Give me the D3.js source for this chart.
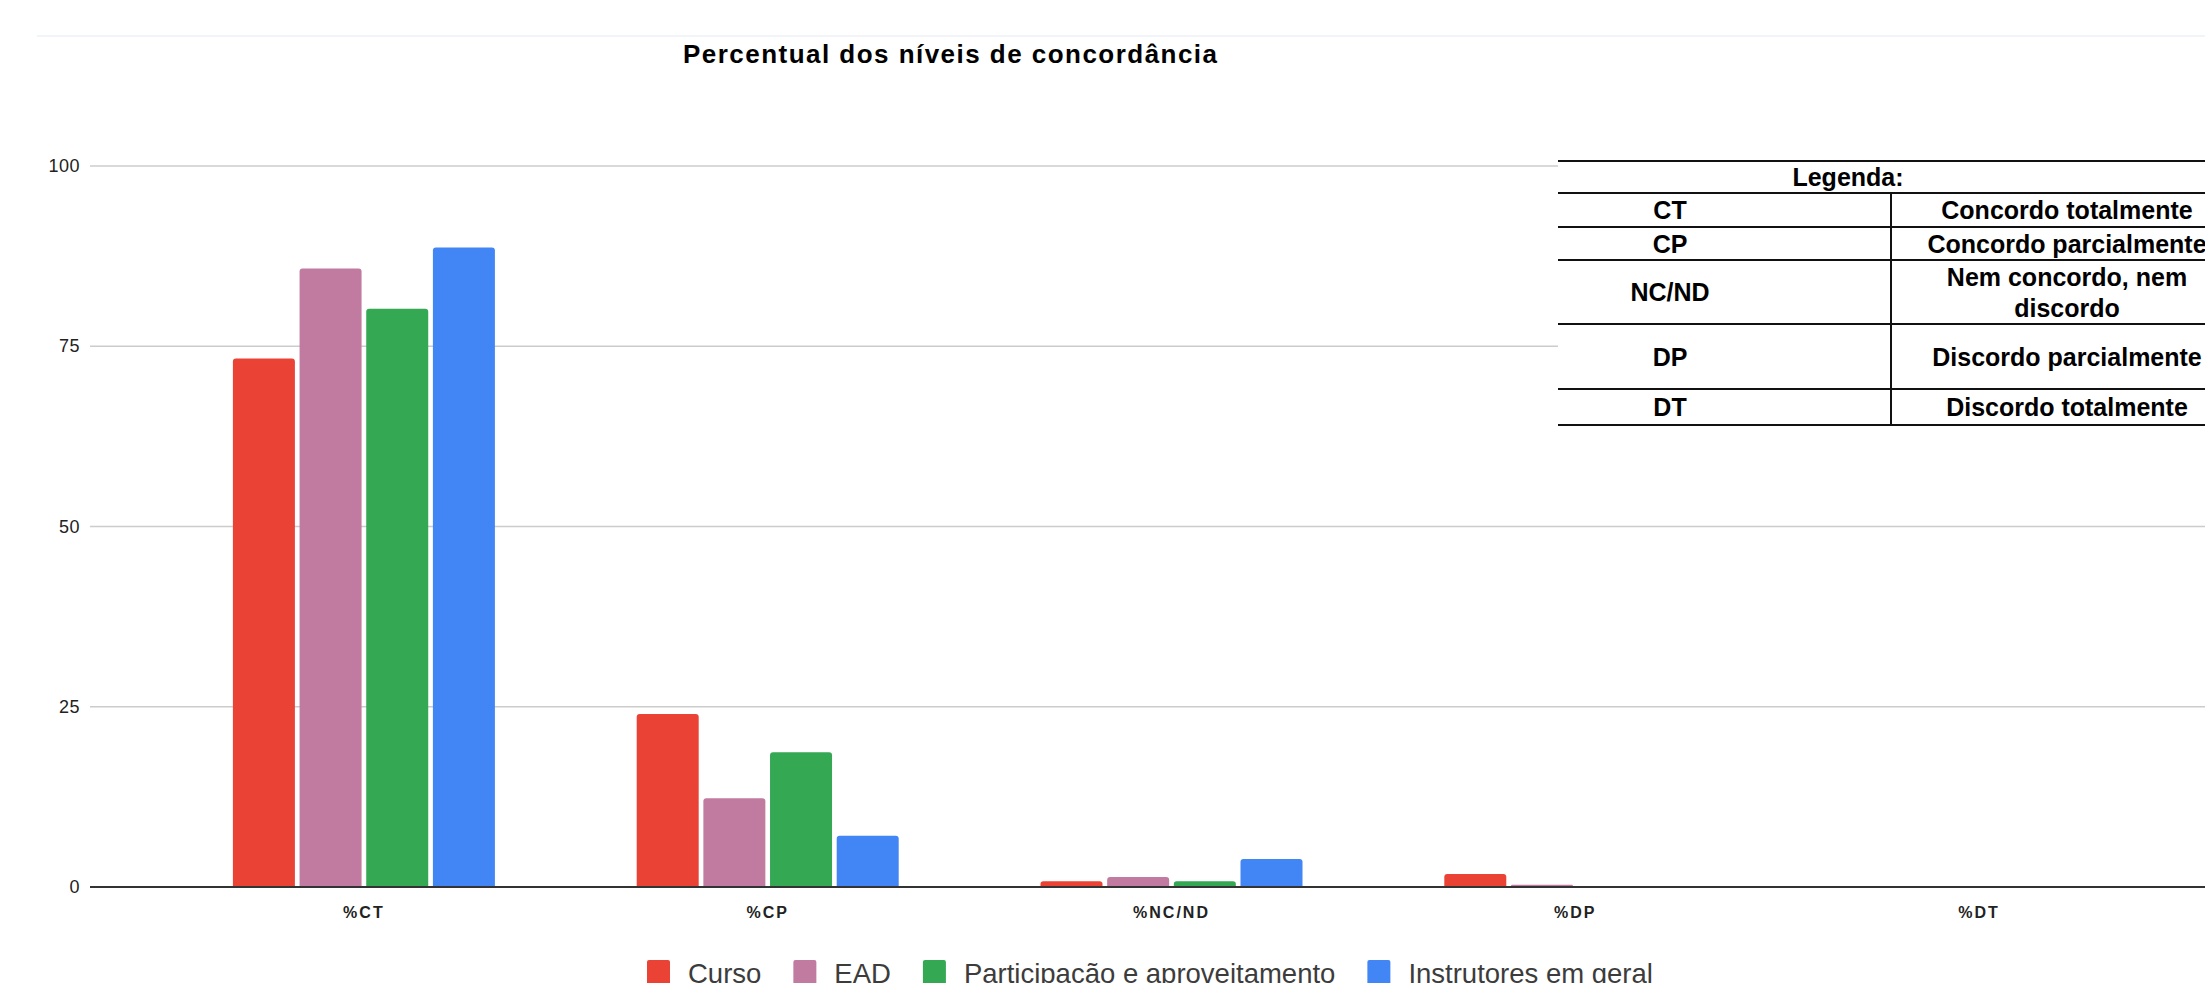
<!DOCTYPE html>
<html>
<head>
<meta charset="utf-8">
<script src="https://d3js.org/d3.v7.min.js"></script>
<style>
  body { margin: 0; background: #fff; }
  svg { display: block; }
</style>
</head>
<body>
<script>

var w = 2205, h = 983;

// data
var categories = ["%CT", "%CP", "%NC/ND", "%DP", "%DT"];
var seriesNames = ["Curso", "EAD", "Participação e aproveitamento", "Instrutores em geral"];
var colors = ["#EA4335", "#C27BA0", "#34A853", "#4285F4"];
var curso = [73.3, 24.0, 0.8, 1.8, 0];
var ead = [85.8, 12.3, 1.4, 0.3, 0];
var participacao = [80.2, 18.7, 0.8, 0, 0];
var instrutores = [88.7, 7.1, 3.9, 0, 0];
var yTicks = [0, 25, 50, 75, 100];

var legendRows = [
  ["CT", "Concordo totalmente"],
  ["CP", "Concordo parcialmente"],
  ["NC/ND", "Nem concordo, nem|discordo"],
  ["DP", "Discordo parcialmente"],
  ["DT", "Discordo totalmente"]
];

var allSeries = [curso, ead, participacao, instrutores];

var svg = d3.select("body").append("svg").attr("width", w).attr("height", h);

// faint top line
svg.append("line").attr("x1", 37).attr("x2", w).attr("y1", 36).attr("y2", 36)
  .attr("stroke", "#edf1f7").attr("stroke-width", 1.5);

// title
svg.append("text").text("Percentual dos níveis de concordância")
  .attr("x", 950).attr("y", 63)
  .attr("text-anchor", "middle")
  .attr("font-family", "Liberation Sans, Arial, sans-serif")
  .attr("font-weight", "bold").attr("font-size", "26px")
  .attr("textLength", 534).attr("lengthAdjust", "spacing")
  .attr("fill", "#000");

var y = d3.scaleLinear().domain([0, 100]).range([887, 166]);
var x0 = d3.scaleBand().domain(categories).range([162, 2181]);
var x1 = d3.scaleBand().domain(d3.range(seriesNames.length)).range([-131, 131]).paddingInner(0.07);

// gridlines
svg.append("g").selectAll("line").data(yTicks.filter(function(d){ return d > 0; }))
  .enter().append("line")
  .attr("x1", 90).attr("x2", w)
  .attr("y1", function(d){ return y(d); }).attr("y2", function(d){ return y(d); })
  .attr("stroke", "#cccccc").attr("stroke-width", 1.5);

// y labels
svg.append("g").selectAll("text").data(yTicks).enter().append("text")
  .text(function(d){ return d; })
  .attr("x", 80).attr("y", function(d){ return y(d) + 6; })
  .attr("text-anchor", "end")
  .attr("font-family", "Liberation Sans, Arial, sans-serif")
  .attr("font-size", "18px").attr("letter-spacing", "0.5px")
  .attr("fill", "#222");

// bars
var barData = [];
categories.forEach(function(c, ci){
  allSeries.forEach(function(s, si){
    barData.push({cat: c, s: si, v: s[ci]});
  });
});

function barPath(d){
  var x = x0(d.cat) + x0.bandwidth() / 2 + x1(d.s);
  var bw = x1.bandwidth();
  var top = y(d.v), base = y(0);
  var r = Math.min(3, (base - top) / 2);
  return "M" + x + "," + base +
    "V" + (top + r) +
    "Q" + x + "," + top + " " + (x + r) + "," + top +
    "H" + (x + bw - r) +
    "Q" + (x + bw) + "," + top + " " + (x + bw) + "," + (top + r) +
    "V" + base + "Z";
}

svg.append("g").selectAll("path").data(barData.filter(function(d){ return d.v > 0; }))
  .enter().append("path")
  .attr("d", barPath)
  .attr("fill", function(d){ return colors[d.s]; });

// baseline
svg.append("line").attr("x1", 90).attr("x2", w).attr("y1", y(0)).attr("y2", y(0))
  .attr("stroke", "#333").attr("stroke-width", 2);

// x labels
svg.append("g").selectAll("text").data(categories).enter().append("text")
  .text(function(d){ return d; })
  .attr("x", function(d){ return x0(d) + x0.bandwidth() / 2; })
  .attr("y", 918)
  .attr("text-anchor", "middle")
  .attr("font-family", "Liberation Sans, Arial, sans-serif")
  .attr("font-weight", "bold").attr("font-size", "16px").attr("letter-spacing", "2px")
  .attr("fill", "#222");

// legend table (image pasted over chart)
var tbl = svg.append("g");
tbl.append("rect").attr("x", 1558).attr("y", 159).attr("width", w - 1558).attr("height", 268).attr("fill", "#fff");
var rowLines = [161, 193, 227, 260, 324, 389, 425];
tbl.selectAll("line.h").data(rowLines).enter().append("line")
  .attr("x1", 1558).attr("x2", w)
  .attr("y1", function(d){ return d; }).attr("y2", function(d){ return d; })
  .attr("stroke", "#111").attr("stroke-width", 2);
tbl.append("line").attr("x1", 1891).attr("x2", 1891).attr("y1", 193).attr("y2", 425)
  .attr("stroke", "#111").attr("stroke-width", 2);

var tFont = "Liberation Sans, Arial, sans-serif";
tbl.append("text").text("Legenda:").attr("x", 1848).attr("y", 186)
  .attr("text-anchor", "middle").attr("font-family", tFont)
  .attr("font-weight", "bold").attr("font-size", "25px").attr("fill", "#000");

legendRows.forEach(function(r, i){
  var top = rowLines[i + 1], bot = rowLines[i + 2];
  var mid = (top + bot) / 2;
  tbl.append("text").text(r[0]).attr("x", 1670).attr("y", mid + 9)
    .attr("text-anchor", "middle").attr("font-family", tFont)
    .attr("font-weight", "bold").attr("font-size", "25px").attr("fill", "#000");
  var lines = r[1].split("|");
  lines.forEach(function(l, li){
    tbl.append("text").text(l).attr("x", 2067)
      .attr("y", mid + 9 + (li - (lines.length - 1) / 2) * 31)
      .attr("text-anchor", "middle").attr("font-family", tFont)
      .attr("font-weight", "bold").attr("font-size", "25px").attr("fill", "#000");
  });
});

// legend
var lg = svg.append("g");
var lx = 647;
seriesNames.forEach(function(name, i){
  lg.append("rect").attr("x", lx).attr("y", 960).attr("width", 23).attr("height", 26)
    .attr("rx", 2).attr("fill", colors[i]);
  var t = lg.append("text").text(name).attr("x", lx + 41).attr("y", 983)
    .attr("font-family", "Liberation Sans, Arial, sans-serif")
    .attr("font-size", "27.5px").attr("fill", "#3c3c3c");
  lx = lx + 41 + t.node().getComputedTextLength() + 32;
});

</script>
</body>
</html>
